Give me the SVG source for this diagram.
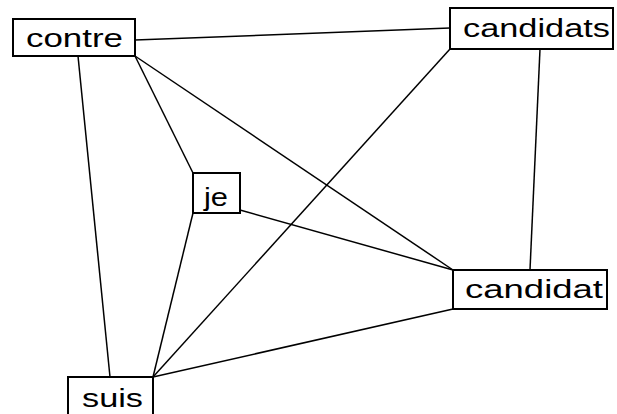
<svg xmlns="http://www.w3.org/2000/svg" width="617" height="414" viewBox="0 0 617 414">
<style>
.box{fill:#fff;stroke:#000;stroke-width:2}
.lbl{font-family:"Liberation Sans",Arial,sans-serif;font-size:26px;fill:#000}
.edge{stroke:#000;stroke-width:1.5;fill:none}
</style>
<rect width="617" height="414" fill="#fff"/>
<g id="connectors">
<line class="edge" x1="135" y1="40" x2="450" y2="28"/>
<line class="edge" x1="135" y1="56" x2="193" y2="173"/>
<line class="edge" x1="135" y1="56" x2="453" y2="270"/>
<line class="edge" x1="78" y1="56" x2="110" y2="377"/>
<line class="edge" x1="540" y1="49" x2="530" y2="270"/>
<line class="edge" x1="450" y1="49" x2="153" y2="377"/>
<line class="edge" x1="240" y1="210" x2="453" y2="270"/>
<line class="edge" x1="193" y1="213" x2="153" y2="377"/>
<line class="edge" x1="453" y1="309" x2="153" y2="377"/>
</g>
<g id="contre">
<rect class="box" x="13" y="19" width="122" height="37"/>
<text class="lbl" x="26" y="47" textLength="97" lengthAdjust="spacingAndGlyphs">contre</text>
</g>
<g id="candidats">
<rect class="box" x="450" y="8" width="163" height="41"/>
<text class="lbl" x="463" y="37" textLength="147" lengthAdjust="spacingAndGlyphs">candidats</text>
</g>
<g id="je">
<rect class="box" x="193" y="173" width="47" height="40"/>
<text class="lbl" x="204" y="206" textLength="24" lengthAdjust="spacingAndGlyphs">je</text>
</g>
<g id="candidat">
<rect class="box" x="453" y="270" width="154" height="39"/>
<text class="lbl" x="465" y="298" textLength="138" lengthAdjust="spacingAndGlyphs">candidat</text>
</g>
<g id="suis">
<rect class="box" x="68" y="377" width="85" height="40"/>
<text class="lbl" x="82" y="407" textLength="61" lengthAdjust="spacingAndGlyphs">suis</text>
</g>
</svg>
